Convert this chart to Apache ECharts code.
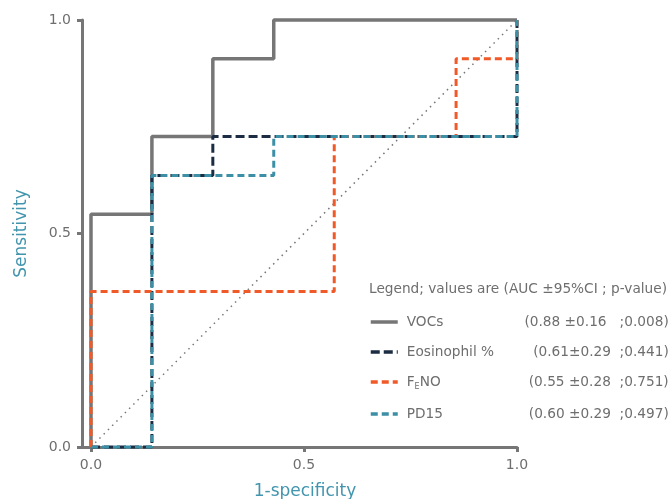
<!DOCTYPE html>
<html>
<head>
<meta charset="utf-8">
<script src="https://cdn.jsdelivr.net/npm/echarts@6/dist/echarts.min.js"></script>
<style>html,body{margin:0;padding:0;background:#fff}#c{width:670px;height:499px}</style>
</head>
<body>
<div id="c"></div>
<script>
// ROC data (1-specificity, sensitivity)
const vocsX = [0, 0, 0.143, 0.143, 0.286, 0.286, 0.429, 0.429, 1];
const vocsY = [0, 0.545, 0.545, 0.727, 0.727, 0.909, 0.909, 1, 1];
const eosX = [0, 0.143, 0.143, 0.286, 0.286, 1, 1];
const eosY = [0, 0, 0.636, 0.636, 0.727, 0.727, 1];
const fenoX = [0, 0, 0.571, 0.571, 0.857, 0.857, 1, 1];
const fenoY = [0, 0.364, 0.364, 0.727, 0.727, 0.909, 0.909, 1];
const pd15X = [0, 0.143, 0.143, 0.429, 0.429, 1, 1];
const pd15Y = [0, 0, 0.636, 0.636, 0.727, 0.727, 1];
const refX = [0, 1];
const refY = [0, 1];
const xTicks = [0, 0.5, 1];
const seriesNames = ['VOCs', 'Eosinophil %', 'FENO', 'PD15'];
const seriesStats = ['(0.88 \u00b10.16   ;0.008)', '(0.61\u00b10.29  ;0.441)', '(0.55 \u00b10.28  ;0.751)', '(0.60 \u00b10.29  ;0.497)'];
const legendTitle = 'Legend; values are (AUC \u00b195%CI ; p-value)';

const zip = (xs, ys) => xs.map((x, i) => [x, ys[i]]);
const gray = '#767676', txt = '#6e6e6e', teal = '#4395ad';
const FONT = 'DejaVu Sans';
const LF = 13.7;
const fmt = v => (v < -0.001 ? '' : Math.abs(v) < 0.001 ? '0.0' : v.toFixed(1));

const chart = echarts.init(document.getElementById('c'), null, {renderer: 'canvas'});
const statFor = n => seriesStats[seriesNames.indexOf(n)];
chart.setOption({
  animation: false,
  backgroundColor: '#fff',
  textStyle: {fontFamily: FONT},
  title: {
    text: legendTitle, left: 369, top: 282, padding: 0,
    textStyle: {fontFamily: FONT, fontSize: LF, fontWeight: 'normal', color: txt}
  },
  grid: {left: 82, right: 153, top: 20, bottom: 52, outerBoundsMode: 'none', containLabel: false},
  xAxis: {
    type: 'value', min: -0.0211, max: 1,
    name: '1-specificity', nameLocation: 'middle', nameGap: 36, nameMoveOverlap: false,
    nameTextStyle: {color: teal, fontSize: 17, fontFamily: FONT, padding: [0, 0, 0, 11]},
    axisLine: {show: true, lineStyle: {color: gray, width: 3}},
    axisTick: {show: true, length: 5, lineStyle: {color: gray, width: 3}, customValues: xTicks},
    axisLabel: {color: txt, fontSize: 14, margin: 11, customValues: xTicks, formatter: fmt},
    splitLine: {show: false}
  },
  yAxis: {
    type: 'value', min: 0, max: 1, interval: 0.5,
    name: 'Sensitivity', nameLocation: 'middle', nameGap: 52, nameMoveOverlap: false,
    nameTextStyle: {color: teal, fontSize: 17, fontFamily: FONT},
    axisLine: {show: true, onZero: false, lineStyle: {color: gray, width: 3}},
    axisTick: {show: true, length: 5, lineStyle: {color: gray, width: 3}},
    axisLabel: {color: txt, fontSize: 14, margin: 11, formatter: fmt},
    splitLine: {show: false}
  },
  legend: {
    orient: 'vertical', left: 369, top: 315, itemGap: 16, padding: 0,
    itemWidth: 27, itemHeight: 14,
    itemStyle: {opacity: 0},
    lineStyle: {width: 3.5},
    data: seriesNames,
    selectedMode: false,
    formatter: function (n) {
      if (n === 'FENO') return '{f|F}{s|E}{m|NO}{v|' + statFor(n) + '}';
      return '{n|' + n + '}{v|' + statFor(n) + '}';
    },
    textStyle: {
      color: txt, fontSize: LF, fontFamily: FONT,
      rich: {
        n: {color: txt, fontSize: LF, fontFamily: FONT, width: 100, padding: [0, 0, 0, 4]},
        f: {color: txt, fontSize: LF, fontFamily: FONT, padding: [0, 0, 0, 4]},
        s: {color: txt, fontSize: 8, fontFamily: FONT, padding: [10, 0, 0, 0], verticalAlign: 'middle'},
        m: {color: txt, fontSize: LF, fontFamily: FONT, width: 87},
        v: {color: txt, fontSize: LF, fontFamily: FONT, width: 162, align: 'right'}
      }
    }
  },
  series: [
    {name: 'ref', type: 'line', data: zip(refX, refY), symbol: 'none', clip: false, silent: true,
     lineStyle: {color: gray, width: 1.5, type: [1.5, 4.5]}},
    {name: 'VOCs', type: 'line', data: zip(vocsX, vocsY), symbol: 'none', clip: false,
     lineStyle: {color: gray, width: 3.5, type: 'solid'}, itemStyle: {color: gray}},
    {name: 'Eosinophil %', type: 'line', data: zip(eosX, eosY), symbol: 'none', clip: false,
     lineStyle: {color: '#1c2d43', width: 3, type: [9, 4]}, itemStyle: {color: '#1c2d43'}},
    {name: 'FENO', type: 'line', data: zip(fenoX, fenoY), symbol: 'none', clip: false,
     lineStyle: {color: '#f05a28', width: 3, type: [7, 4]}, itemStyle: {color: '#f05a28'}},
    {name: 'PD15', type: 'line', data: zip(pd15X, pd15Y), symbol: 'none', clip: false,
     lineStyle: {color: '#3d8fa5', width: 3, type: [7, 4]}, itemStyle: {color: '#3d8fa5'}}
  ]
});
</script>
</body>
</html>
